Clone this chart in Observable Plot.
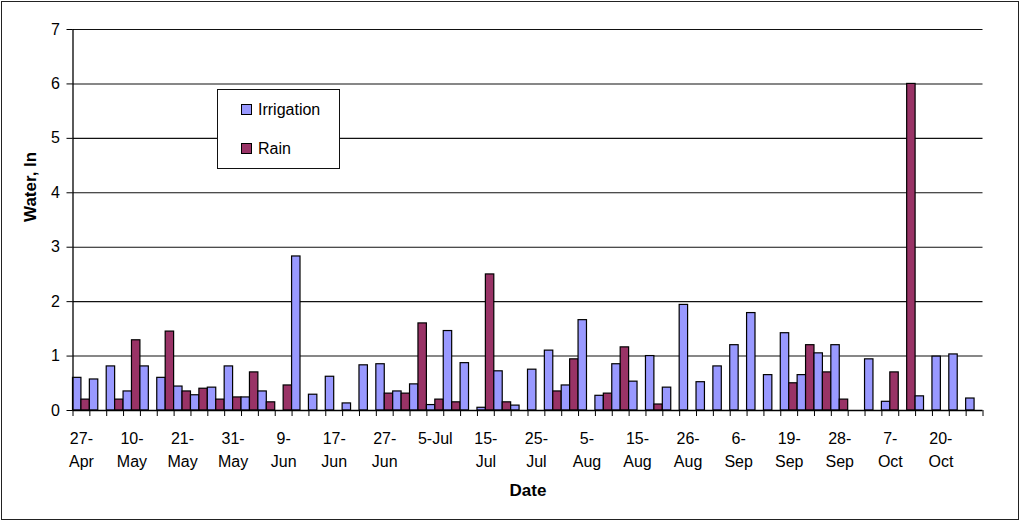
<!DOCTYPE html>
<html>
<head>
<meta charset="utf-8">
<script src="https://cdn.jsdelivr.net/npm/d3@7"></script>
<script src="https://cdn.jsdelivr.net/npm/@observablehq/plot@0.6"></script>
<style>
  html, body { margin: 0; padding: 0; background: #fff; }
  body { width: 1024px; height: 525px; position: relative; overflow: hidden; font-family: "Liberation Sans", Arial, sans-serif; }
  #border { position: absolute; left: 1px; top: 1px; width: 1018px; height: 519px; box-sizing: border-box; border: 1.5px solid #222; pointer-events: none; }
  #chart { position: absolute; left: 0; top: 0; }
  #legend { position: absolute; left: 217px; top: 89px; width: 123px; height: 80px; box-sizing: border-box; border: 1px solid #111; background: #fff; font-size: 16px; color: #000; }
  .item { position: absolute; left: 23px; height: 16px; line-height: 16px; white-space: nowrap; }
  .sw { display: inline-block; width: 9px; height: 9px; border: 1px solid #000; margin-right: 6px; vertical-align: 0px; }
</style>
</head>
<body>
<div id="chart"></div>
<div id="border"></div>
<div id="legend"></div>
<script>
// Series names and colours
const seriesNames = ["Irrigation", "Rain"];
const seriesColors = ["#9999FF", "#993366"];

// 54 irregularly spaced dates (categories); only every third one is labelled
const irrigation = [
  0.60, 0.57, 0.81, 0.35, 0.81, 0.60, 0.44, 0.28, 0.42, 0.81,
  0.24, 0.35, 0.00, 2.83, 0.29, 0.62, 0.13, 0.83, 0.85, 0.35,
  0.48, 0.10, 1.46, 0.87, 0.05, 0.72, 0.09, 0.75, 1.10, 0.46,
  1.66, 0.27, 0.85, 0.53, 1.00, 0.42, 1.94, 0.52, 0.81, 1.20,
  1.79, 0.65, 1.42, 0.65, 1.05, 1.20, 0.00, 0.94, 0.16, 0.00,
  0.26, 0.99, 1.03, 0.22
];
const rain = [
  0.20, 0.00, 0.20, 1.29, 0.00, 1.45, 0.35, 0.40, 0.20, 0.24,
  0.70, 0.15, 0.46, 0.00, 0.00, 0.00, 0.00, 0.00, 0.31, 0.31,
  1.60, 0.20, 0.15, 0.00, 2.50, 0.15, 0.00, 0.00, 0.35, 0.94,
  0.00, 0.31, 1.16, 0.00, 0.11, 0.00, 0.00, 0.00, 0.00, 0.00,
  0.00, 0.00, 0.50, 1.20, 0.70, 0.20, 0.00, 0.00, 0.70, 6.00,
  0.00, 0.00, 0.00, 0.00
];
const tickLabels = [
  "27-\nApr", "10-\nMay", "21-\nMay", "31-\nMay", "9-\nJun", "17-\nJun",
  "27-\nJun", "5-Jul", "15-\nJul", "25-\nJul", "5-\nAug", "15-\nAug",
  "26-\nAug", "6-\nSep", "19-\nSep", "28-\nSep", "7-\nOct", "20-\nOct"
];
const labelEvery = 3;
const yTicks = [0, 1, 2, 3, 4, 5, 6, 7];

const n = irrigation.length;
const rows = [];
for (let i = 0; i < n; i++) {
  rows.push({i, series: seriesNames[0], value: irrigation[i], slot: 0});
  rows.push({i, series: seriesNames[1], value: rain[i], slot: 1});
}
const bars = rows.filter(d => d.value > 0);
const boundaries = d3.range(0, n + 1);
const labelPos = tickLabels.map((_, k) => k * labelEvery + 0.5);

const chart = Plot.plot({
  width: 1024,
  height: 525,
  marginLeft: 72.5,
  marginRight: 41.5,
  marginTop: 29,
  marginBottom: 115,
  style: {fontFamily: "Liberation Sans, Arial, sans-serif", fontSize: "16px", color: "#000", background: "transparent"},
  x: {type: "linear", domain: [0, n], axis: null},
  y: {domain: [0, 7], axis: null},
  color: {domain: seriesNames, range: seriesColors},
  marks: [
    Plot.ruleY(yTicks.filter(t => t > 0), {stroke: "#111", strokeWidth: 1.1}),
    Plot.rect(bars, {
      x1: d => d.i + d.slot * 0.5,
      x2: d => d.i + (d.slot + 1) * 0.5,
      y1: 0,
      y2: "value",
      fill: "series",
      stroke: "#000",
      strokeWidth: 1.2
    }),
    Plot.ruleX([0], {stroke: "#000", strokeWidth: 1.3}),
    Plot.ruleY([0], {stroke: "#000", strokeWidth: 1.3}),
    Plot.axisY(yTicks, {tickSize: 6, tickPadding: 7, fontSize: 16, label: null, stroke: "#000", tickFormat: d3.format("d")}),
    Plot.axisX(boundaries, {tickSize: 6, tickFormat: () => "", label: null, stroke: "#000"}),
    Plot.axisX(labelPos, {
      tickSize: 0,
      tickPadding: 17,
      fontSize: 16,
      lineHeight: 1.44,
      label: null,
      tickFormat: d => tickLabels[Math.round(d - 0.5) / labelEvery]
    }),
    Plot.text(["Water, In"], {frameAnchor: "left", rotate: -90, dx: -42.5, dy: 2, fontWeight: "bold", fontSize: 17, fill: "#000"}),
    Plot.text(["Date"], {frameAnchor: "bottom", lineAnchor: "middle", dy: 80, fontWeight: "bold", fontSize: 17, fill: "#000"})
  ]
});
document.getElementById("chart").appendChild(chart);

// Legend
const legend = document.getElementById("legend");
seriesNames.forEach((name, k) => {
  const item = document.createElement("div");
  item.className = "item";
  item.style.top = (k === 0 ? 12 : 51) + "px";
  const sw = document.createElement("span");
  sw.className = "sw";
  sw.style.background = seriesColors[k];
  item.appendChild(sw);
  item.appendChild(document.createTextNode(name));
  legend.appendChild(item);
});
</script>
</body>
</html>
